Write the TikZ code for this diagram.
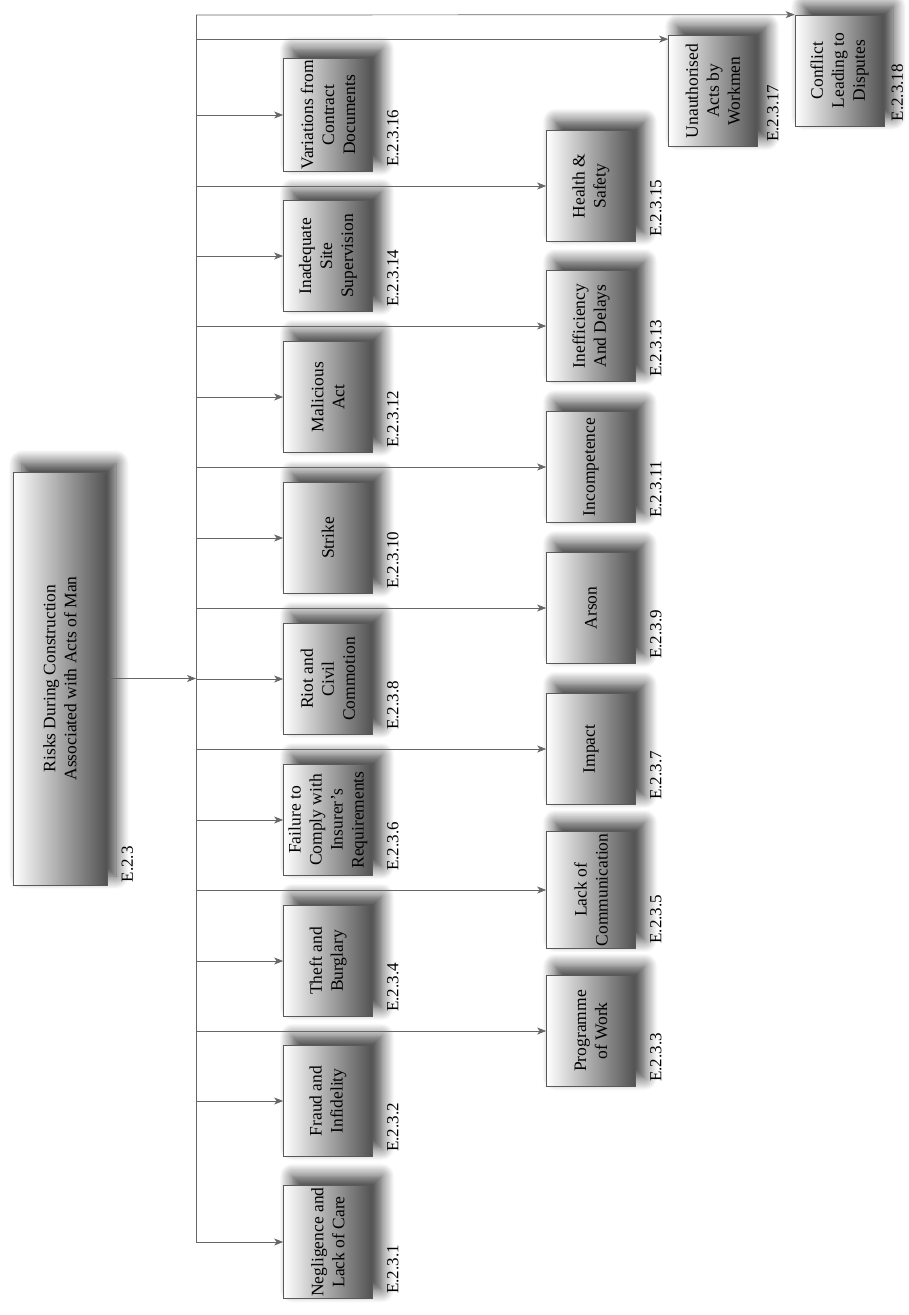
\documentclass[tikz,border=0pt]{standalone}
\usepackage{fontspec}
\setmainfont{Liberation Serif}
\usetikzlibrary{arrows.meta,shadows.blur}
\begin{document}
\begin{tikzpicture}[x=1pt,y=-1pt,
  riskbox/.style={draw=black!65, line width=0.7pt, rotate=90, align=center, inner sep=2pt,
    minimum width=111pt, minimum height=89pt,
    left color=white, middle color=black!8, right color=black!68,
    blur shadow={shadow xshift=9pt, shadow yshift=9pt, shadow blur radius=13pt, shadow blur steps=12, shadow opacity=80},
    font=\fontsize{17.5}{21}\selectfont},
  idlabel/.style={rotate=90, anchor=west, inner sep=0pt, font=\fontsize{17}{20}\selectfont},
  bus/.style={draw=black!60, line width=0.7pt},
  link/.style={bus, -{Stealth[length=9pt,width=7pt,inset=2.5pt]}}]
\useasboundingbox (0,0) rectangle (908,1315);
\node[riskbox, minimum width=413pt, minimum height=94pt] (root) at (60,678.5) {Risks During Construction\\Associated with Acts of Man};
\node[riskbox] (r1) at (328,1242) {Negligence and\\Lack of Care};
\node[riskbox] (r2) at (328,1101) {Fraud and\\Infidelity};
\node[riskbox] (r3) at (591,1031) {Programme\\of Work};
\node[riskbox] (r4) at (328,961) {Theft and\\Burglary};
\node[riskbox] (r5) at (591,890) {Lack of\\Communication};
\node[riskbox] (r6) at (328,820) {Failure to\\Comply with\\Insurer’s\\Requirements};
\node[riskbox] (r7) at (591,749) {Impact};
\node[riskbox] (r8) at (328,679) {Riot and\\Civil\\Commotion};
\node[riskbox] (r9) at (591,608) {Arson};
\node[riskbox] (r10) at (328,538) {Strike};
\node[riskbox] (r11) at (591,467) {Incompetence};
\node[riskbox] (r12) at (328,397) {Malicious\\Act};
\node[riskbox] (r13) at (591,326) {Inefficiency\\And Delays};
\node[riskbox] (r14) at (328,256) {Inadequate\\Site\\Supervision};
\node[riskbox] (r15) at (591,186) {Health \&\\Safety};
\node[riskbox] (r16) at (328,115) {Variations from\\Contract\\Documents};
\node[riskbox] (r17) at (713,91) {Unauthorised\\Acts by\\Workmen};
\node[riskbox] (r18) at (839.5,70.5) {Conflict\\Leading to\\Disputes};
\node[idlabel] (l0) at ([xshift=20pt,yshift=3pt]root.south west) {E.2.3};
\node[idlabel] (l1) at ([xshift=20pt,yshift=5pt]r1.south west) {E.2.3.1};
\node[idlabel] (l2) at ([xshift=20pt,yshift=5pt]r2.south west) {E.2.3.2};
\node[idlabel] (l3) at ([xshift=20pt,yshift=5pt]r3.south west) {E.2.3.3};
\node[idlabel] (l4) at ([xshift=20pt,yshift=5pt]r4.south west) {E.2.3.4};
\node[idlabel] (l5) at ([xshift=20pt,yshift=5pt]r5.south west) {E.2.3.5};
\node[idlabel] (l6) at ([xshift=20pt,yshift=5pt]r6.south west) {E.2.3.6};
\node[idlabel] (l7) at ([xshift=20pt,yshift=5pt]r7.south west) {E.2.3.7};
\node[idlabel] (l8) at ([xshift=20pt,yshift=5pt]r8.south west) {E.2.3.8};
\node[idlabel] (l9) at ([xshift=20pt,yshift=5pt]r9.south west) {E.2.3.9};
\node[idlabel] (l10) at ([xshift=20pt,yshift=5pt]r10.south west) {E.2.3.10};
\node[idlabel] (l11) at ([xshift=20pt,yshift=5pt]r11.south west) {E.2.3.11};
\node[idlabel] (l12) at ([xshift=20pt,yshift=5pt]r12.south west) {E.2.3.12};
\node[idlabel] (l13) at ([xshift=20pt,yshift=5pt]r13.south west) {E.2.3.13};
\node[idlabel] (l14) at ([xshift=20pt,yshift=5pt]r14.south west) {E.2.3.14};
\node[idlabel] (l15) at ([xshift=20pt,yshift=5pt]r15.south west) {E.2.3.15};
\node[idlabel] (l16) at ([xshift=20pt,yshift=5pt]r16.south west) {E.2.3.16};
\node[idlabel] (l17) at ([xshift=15pt,yshift=5pt]r17.south west) {E.2.3.17};
\node[idlabel] (l18) at ([xshift=13pt,yshift=5pt]r18.south west) {E.2.3.18};
\coordinate (bustop) at (196,15);
\coordinate (busbot) at (196,1242);
\coordinate (r17in) at ([yshift=-4pt]r17.north east);
\draw[bus] (bustop) -- (busbot);
\draw[link] (root.south) -- (root.south -| bustop);
\draw[link] (r1.north -| bustop) -- (r1.north);
\draw[link] (r2.north -| bustop) -- (r2.north);
\draw[link] (r3.north -| bustop) -- (r3.north);
\draw[link] (r4.north -| bustop) -- (r4.north);
\draw[link] (r5.north -| bustop) -- (r5.north);
\draw[link] (r6.north -| bustop) -- (r6.north);
\draw[link] (r7.north -| bustop) -- (r7.north);
\draw[link] (r8.north -| bustop) -- (r8.north);
\draw[link] (r9.north -| bustop) -- (r9.north);
\draw[link] (r10.north -| bustop) -- (r10.north);
\draw[link] (r11.north -| bustop) -- (r11.north);
\draw[link] (r12.north -| bustop) -- (r12.north);
\draw[link] (r13.north -| bustop) -- (r13.north);
\draw[link] (r14.north -| bustop) -- (r14.north);
\draw[link] (r15.north -| bustop) -- (r15.north);
\draw[link] (r16.north -| bustop) -- (r16.north);
\draw[link] (r17in -| bustop) -- (r17in);
\draw[link] (bustop) -- (r18.north east);
\end{tikzpicture}
\end{document}
